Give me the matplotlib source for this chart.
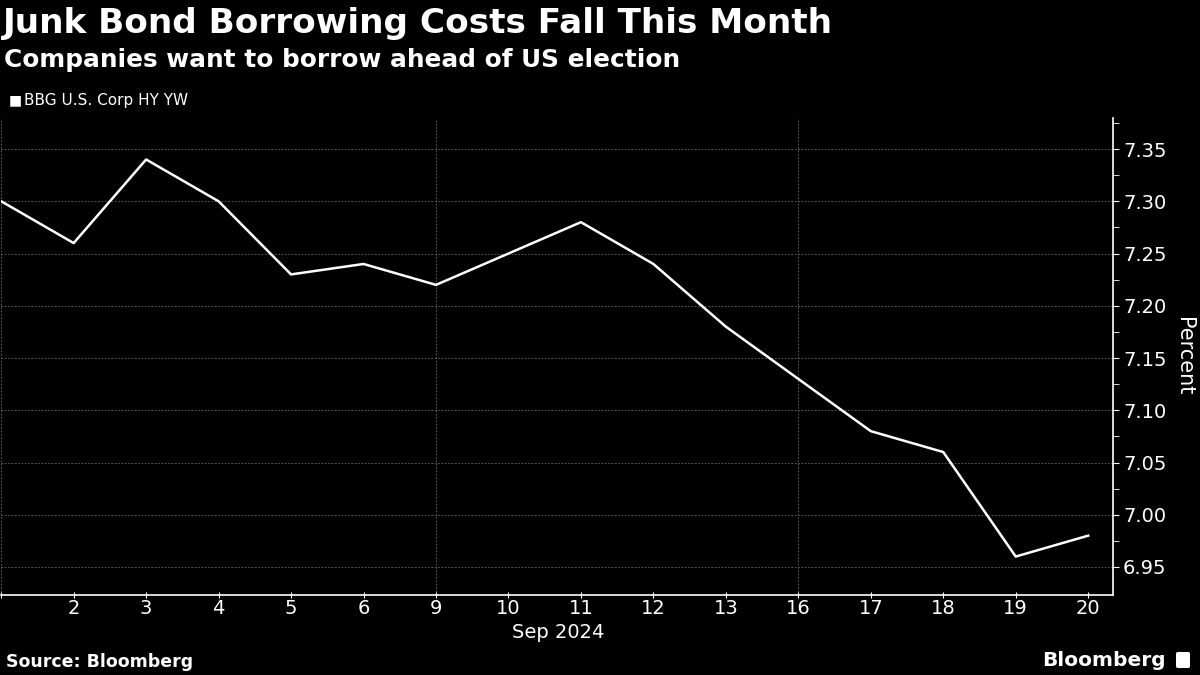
import numpy as np
import matplotlib
matplotlib.use("Agg")
import matplotlib.pyplot as plt
from matplotlib.patches import FancyBboxPatch

# data (first point is Aug 30, unlabeled)
day_labels = ["", "2", "3", "4", "5", "6", "9", "10", "11", "12", "13", "16", "17", "18", "19", "20"]
yields = [7.30, 7.26, 7.34, 7.30, 7.23, 7.24, 7.22, 7.25, 7.28, 7.24, 7.18, 7.13, 7.08, 7.06, 6.96, 6.98]
y_ticks = [6.95, 7.00, 7.05, 7.10, 7.15, 7.20, 7.25, 7.30, 7.35]
week_starts = [0, 6, 11]  # dotted vertical lines (Aug 30, Sep 9, Sep 16)

plt.rcParams['font.family'] = ['DejaVu Sans']

fig = plt.figure(figsize=(12, 6.75), dpi=100, facecolor='black')
ax = fig.add_axes([0.001, 1 - 595 / 675, (1113 - 1) / 1200, (595 - 118) / 675])
ax.set_facecolor('black')

x = np.arange(len(yields))
ax.plot(x, yields, color='white', linewidth=1.8)

ax.set_xlim(0, 15 + 25 / 72.47)
ax.set_ylim(6.9232, 7.3797)

# gridlines
for v in y_ticks:
    ax.axhline(v, color='#6a6a6a', linestyle=(0, (2, 2)), linewidth=0.6, zorder=0)
for w in week_starts:
    ax.axvline(w, color='#6a6a6a', linestyle=(0, (2, 2)), linewidth=0.6, zorder=0)

# spines
for s in ['top', 'left']:
    ax.spines[s].set_visible(False)
ax.spines['bottom'].set_color('white')
ax.spines['right'].set_color('white')
ax.spines['bottom'].set_linewidth(1.2)
ax.spines['right'].set_linewidth(1.2)

ax.set_xticks(x)
ax.set_xticklabels(day_labels)
ax.tick_params(axis='x', colors='white', labelsize=14, length=4, direction='inout', pad=1)

ax.yaxis.tick_right()
ax.set_yticks(y_ticks)
ax.set_yticklabels([f"{v:.2f}" for v in y_ticks])
ax.set_yticks(list(np.array(y_ticks[:-1]) + 0.025) + [7.375], minor=True)
ax.tick_params(axis='y', which='major', colors='white', labelsize=14, length=4, pad=3)
ax.tick_params(axis='y', which='minor', colors='white', length=4)

ax.yaxis.set_label_position('right')
ax.set_ylabel('Percent', color='white', fontsize=15, rotation=270, labelpad=20)

fig.text(558 / 1200, 1 - 633 / 675, 'Sep 2024', color='white', fontsize=14, ha='center', va='center')

# titles
fig.text(3 / 1200, 1 - 24 / 675, 'Junk Bond Borrowing Costs Fall This Month', color='white',
         fontsize=24.7, fontweight='bold', ha='left', va='center')
fig.text(4 / 1200, 1 - 60 / 675, 'Companies want to borrow ahead of US election', color='white',
         fontsize=17.8, fontweight='bold', ha='left', va='center')
fig.text(9 / 1200, 1 - 100 / 675, '\u25A0', color='white', fontsize=10, ha='left', va='center')
fig.text(24 / 1200, 1 - 100 / 675, 'BBG U.S. Corp HY YW', color='white', fontsize=11, ha='left', va='center')

fig.text(6 / 1200, 1 - 662 / 675, 'Source: Bloomberg', color='white', fontsize=12.5,
         fontweight='bold', ha='left', va='center')
fig.text(1166 / 1200, 1 - 660 / 675, 'Bloomberg', color='white', fontsize=14.5,
         fontweight='bold', ha='right', va='center')
fig.patches.append(FancyBboxPatch((1176 / 1200, 1 - 668 / 675), 14 / 1200, 16 / 675,
                                  boxstyle='round,pad=0,rounding_size=0.002',
                                  transform=fig.transFigure, facecolor='white', edgecolor='none'))

fig.savefig('out.png', dpi=100, facecolor='black')
